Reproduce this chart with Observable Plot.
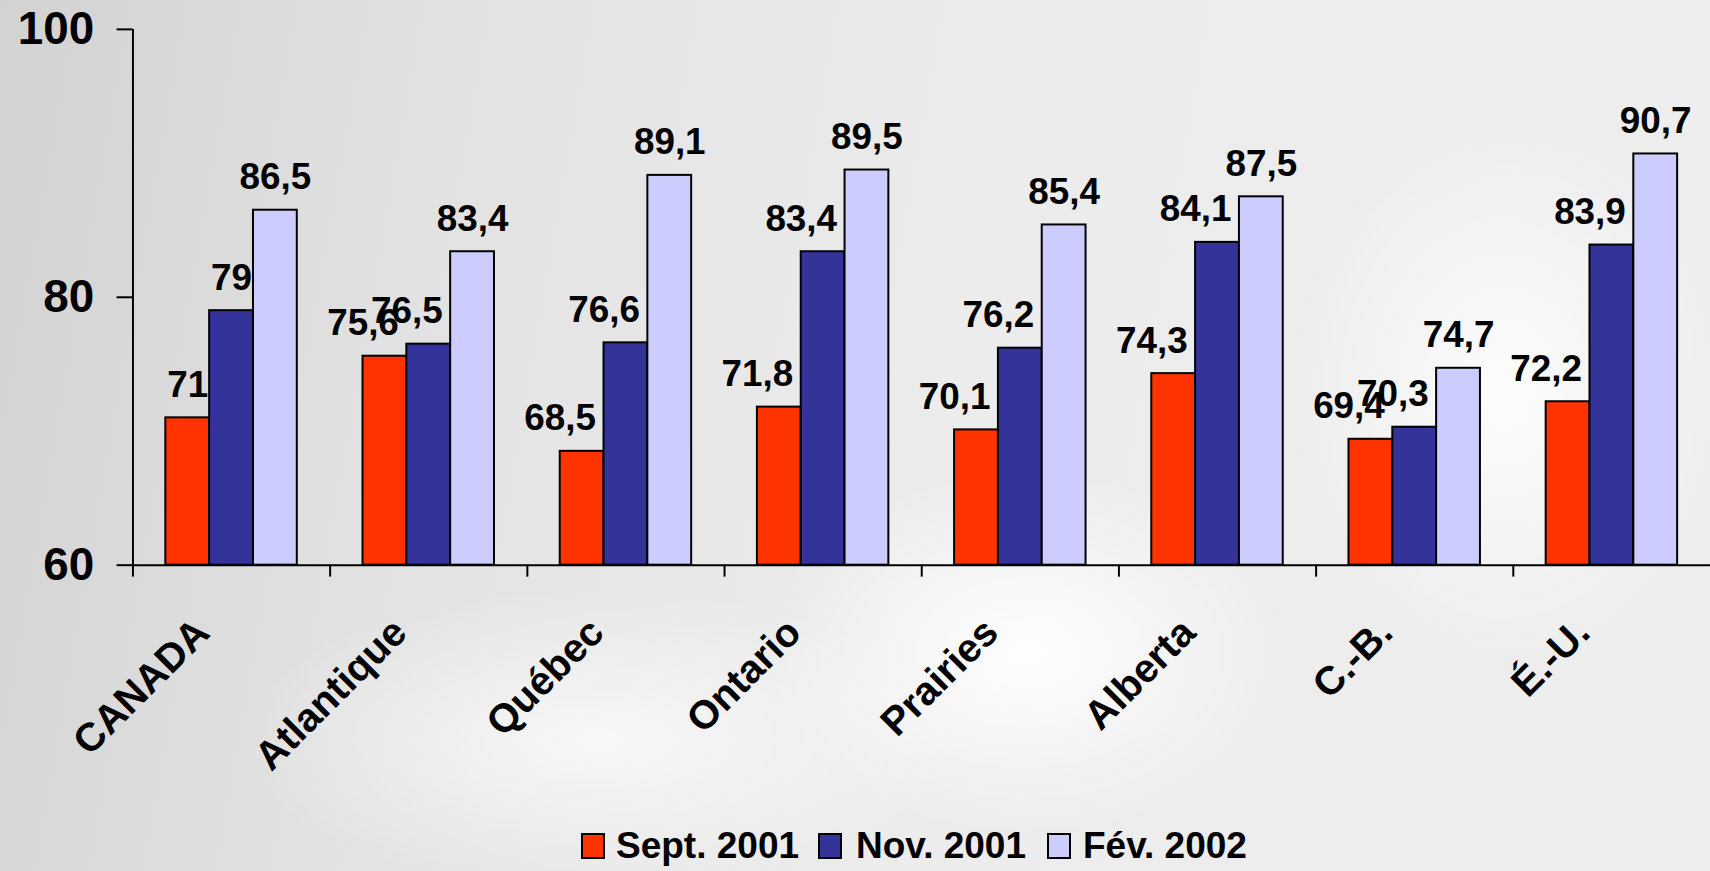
<!DOCTYPE html>
<html>
<head>
<meta charset="utf-8">
<script src="https://cdn.jsdelivr.net/npm/d3@7"></script>
<script src="https://cdn.jsdelivr.net/npm/@observablehq/plot@0.6"></script>
<style>
  html, body { margin: 0; padding: 0; overflow: hidden; width: 1710px; height: 871px; }
  body {
    font-family: 'Liberation Sans', Arial, sans-serif;
    background:
      radial-gradient(ellipse 22% 30% at 60% 75%, rgba(255,255,255,0.95), rgba(255,255,255,0) 70%),
      radial-gradient(ellipse 18% 45% at 88% 45%, rgba(255,255,255,0.85), rgba(255,255,255,0) 70%),
      radial-gradient(ellipse 30% 25% at 35% 85%, rgba(255,255,255,0.7), rgba(255,255,255,0) 70%),
      linear-gradient(100deg, #d2d2d2 0%, #e2e2e2 25%, #ececec 55%, #eeeeee 100%);
  }
  #chart svg { display: block; }
  #legend { position: relative; height: 56px; width: 1710px; }
  #legend .sw { position: absolute; top: 21px; width: 20px; height: 22px; border: 2px solid #000; }
  #legend .lb { position: absolute; top: 15px; font-size: 37px; line-height: 37px; font-weight: bold;
                white-space: nowrap; color: #000; }
</style>
</head>
<body>
<div id="chart"></div>
<div id="legend"></div>
<script>
const categories = ["CANADA", "Atlantique", "Québec", "Ontario", "Prairies", "Alberta", "C.-B.", "É.-U."];
const seriesNames = ["Sept. 2001", "Nov. 2001", "Fév. 2002"];
const sept2001 = [71, 75.6, 68.5, 71.8, 70.1, 74.3, 69.4, 72.2];
const nov2001  = [79, 76.5, 76.6, 83.4, 76.2, 84.1, 70.3, 83.9];
const fev2002  = [86.5, 83.4, 89.1, 89.5, 85.4, 87.5, 74.7, 90.7];
const yTicks = [60, 80, 100];

const colors = ["#FF3300", "#333399", "#CCCCFF"];
const seriesValues = [sept2001, nov2001, fev2002];
const tables = seriesValues.map((vals, j) =>
  categories.map((c, i) => ({cat: c, value: vals[i], series: seriesNames[j]})));

const fmt = v => String(v).replace(".", ",");

// bar geometry within each 198px band: three 44px bars centred
const insets = [[33, 121], [77, 77], [121, 33]];
const labelDx = [-44, 0, 44];
// red/blue decimal labels sit a little left of their bar, as in the reference
const labelShift = (j, v) => (j < 2 && !Number.isInteger(v)) ? -22 : 0;

const barMarks = tables.map((t, j) => Plot.barY(t, {
  x: "cat", y1: 60, y2: "value", fill: colors[j], stroke: "#000", strokeWidth: 2,
  insetLeft: insets[j][0], insetRight: insets[j][1]
}));
const labelMarks = tables.map((t, j) => [
  Plot.text(t.filter(d => labelShift(j, d.value) === 0), {
    x: "cat", y: "value", text: d => fmt(d.value), dx: labelDx[j], dy: -21,
    lineAnchor: "bottom", fontSize: 37, fontWeight: "bold", fill: "#000"
  }),
  Plot.text(t.filter(d => labelShift(j, d.value) !== 0), {
    x: "cat", y: "value", text: d => fmt(d.value), dx: labelDx[j] - 22, dy: -21,
    lineAnchor: "bottom", fontSize: 37, fontWeight: "bold", fill: "#000"
  })
]).flat();

const chart = Plot.plot({
  width: 1717, height: 815,
  marginLeft: 133, marginRight: 0, marginTop: 29, marginBottom: 248,
  style: {background: "transparent", fontFamily: "'Liberation Sans', Arial, sans-serif", fontWeight: "bold", color: "#000", overflow: "visible"},
  x: {type: "band", domain: categories, padding: 0},
  y: {domain: [60, 100]},
  marks: [
    Plot.axisY({ticks: yTicks, tickSize: 16, tickPadding: 23, fontSize: 46, fontWeight: "bold", tickFormat: d => String(d), label: null, strokeWidth: 2}),
    Plot.axisX({tickSize: 12, tickFormat: () => "", dx: -99, label: null, strokeWidth: 2}),
    ...barMarks,
    Plot.ruleY([60], {stroke: "#000", strokeWidth: 2}),
    Plot.ruleX([categories[0]], {x: d => d, y1: 60, y2: 100, dx: -99, stroke: "#000", strokeWidth: 2}),
    ...labelMarks,
    Plot.text(categories, {x: d => d, text: d => d, frameAnchor: "bottom", rotate: -45,
      textAnchor: "end", lineAnchor: "bottom", dx: -20, dy: 70, fontSize: 40, fontWeight: "bold", fill: "#000"})
  ]
});
document.getElementById("chart").appendChild(chart);

// legend
const legend = document.getElementById("legend");
const swLeft = [581, 818, 1047];
const lbLeft = [616, 856, 1083];
seriesNames.forEach((name, j) => {
  const sw = document.createElement("div");
  sw.className = "sw"; sw.style.left = swLeft[j] + "px"; sw.style.background = colors[j];
  legend.appendChild(sw);
  const lb = document.createElement("div");
  lb.className = "lb"; lb.style.left = lbLeft[j] + "px"; lb.textContent = name;
  legend.appendChild(lb);
});
</script>
</body>
</html>
